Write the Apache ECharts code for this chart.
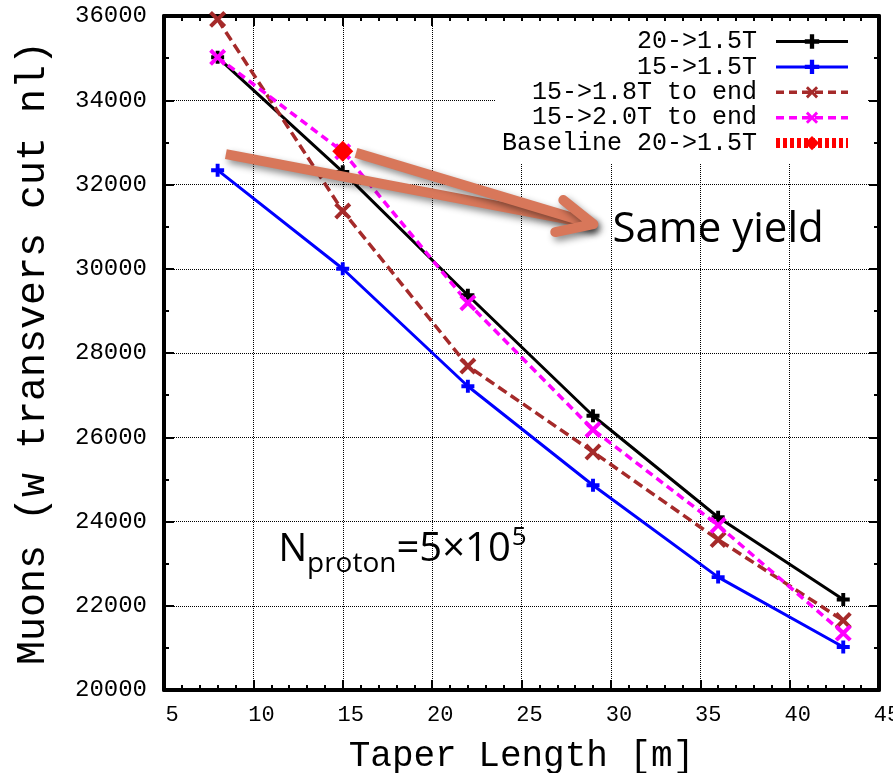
<!DOCTYPE html>
<html>
<head>
<meta charset="utf-8">
<script src="https://cdn.jsdelivr.net/npm/echarts@6/dist/echarts.min.js"></script>
<style>
  html, body { margin: 0; padding: 0; background: #fff; }
  #chart { width: 893px; height: 773px; }
</style>
</head>
<body>
<div id="chart"></div>
<script>
// Taper length [m] of each simulated configuration
const taperLength = [8, 15, 22, 29, 36, 43];

// Muon yield (with transverse cut) per configuration
const muons20to15 = [35020, 32300, 29370, 26510, 24100, 22150];
const muons15to15 = [32340, 30000, 27210, 24860, 22680, 21020];
const muons15to18 = [35920, 31370, 27690, 25650, 23570, 21650];
const muons15to20 = [35020, 32780, 29190, 26180, 23910, 21350];

// Baseline design point
const baselineLength = [15];
const baselineMuons = [32790];

const seriesNames = ['20->1.5T', '15->1.5T', '15->1.8T to end', '15->2.0T to end', 'Baseline 20->1.5T'];

// Annotation anchors in data units (taper length, muons)
const arrowShafts = [
  [[8.46, 32720], [29.02, 31060]],
  [[15.74, 32750], [29.02, 31060]]
];
const arrowHead = [[27.34, 31630], [29.02, 31060], [26.89, 30870]];
const sameYieldAnchor = [30.09, 30930];
const protonAnchor = [11.4, 23330];

const MONO = '"Liberation Mono", "DejaVu Sans Mono", monospace';
const SANS = '"Open Sans", "Noto Sans", sans-serif';
const PLUS = 'path://M3.5,0H6.5V3.5H10V6.5H6.5V10H3.5V6.5H0V3.5H3.5Z';
const CROSS = 'path://M4,0H6V4H10V6H6V10H4V6H0V4H4Z';

function pairs(xs, ys) { return xs.map((x, i) => [x, ys[i]]); }

const chart = echarts.init(document.getElementById('chart'), null, { renderer: 'canvas' });

const frameLine = { onZero: false, lineStyle: { color: '#000', width: 4 } };
const frameTick = { show: true, inside: true, length: 10, lineStyle: { color: '#000', width: 2 } };

const xBase = { type: 'value', min: 5, max: 45, interval: 5 };
const yBase = { type: 'value', min: 20000, max: 36000, interval: 2000 };

chart.setOption({
  animation: false,
  backgroundColor: '#fff',
  grid: { left: 164, right: 14, top: 16, bottom: 83, containLabel: false, outerBoundsMode: 'none' },
  legend: {
    orient: 'vertical',
    right: 25,
    top: 21,
    align: 'right',
    itemWidth: 72,
    itemHeight: 18,
    itemGap: 0.4,
    backgroundColor: '#fff',
    padding: [8, 15, 8, 6],
    textStyle: { fontFamily: MONO, fontSize: 25, color: '#000', padding: [0, 14, 0, 0] },
    data: [
      { name: seriesNames[0], lineStyle: { width: 3 } },
      { name: seriesNames[1], lineStyle: { width: 3 } },
      { name: seriesNames[2], lineStyle: { width: 3.5, type: [8, 5] } },
      { name: seriesNames[3], lineStyle: { width: 3.5, type: [8, 5] } },
      { name: seriesNames[4], lineStyle: { width: 10, type: [4, 3] } }
    ]
  },
  xAxis: [
    Object.assign({}, xBase, {
      position: 'bottom',
      name: 'Taper Length [m]',
      nameLocation: 'middle',
      nameGap: 48,
      nameTextStyle: { fontFamily: MONO, fontSize: 36, color: '#000' },
      axisLine: frameLine,
      axisTick: frameTick,
      minorTick: { show: true, splitNumber: 5, length: 5, lineStyle: { color: '#000', width: 2 } },
      axisLabel: { fontFamily: MONO, fontSize: 22, color: '#000', margin: 14, padding: [0, 0, 0, 16] },
      splitLine: { show: true, lineStyle: { color: '#000', type: 'dotted', width: 1 } }
    }),
    Object.assign({}, xBase, {
      position: 'top',
      axisLine: frameLine,
      axisTick: frameTick,
      minorTick: { show: true, splitNumber: 5, length: 5, lineStyle: { color: '#000', width: 2 } },
      axisLabel: { show: false },
      splitLine: { show: false }
    })
  ],
  yAxis: [
    Object.assign({}, yBase, {
      position: 'left',
      name: 'Muons (w transvers cut nl)',
      nameLocation: 'middle',
      nameGap: 111,
      nameTextStyle: { fontFamily: MONO, fontSize: 40, color: '#000' },
      axisLine: frameLine,
      axisTick: frameTick,
      minorTick: { show: true, splitNumber: 2, length: 5, lineStyle: { color: '#000', width: 2 } },
      axisLabel: { fontFamily: MONO, fontSize: 24, color: '#000', margin: 17, formatter: v => String(v) },
      splitLine: { show: true, lineStyle: { color: '#000', type: 'dotted', width: 1 } }
    }),
    Object.assign({}, yBase, {
      position: 'right',
      axisLine: frameLine,
      axisTick: frameTick,
      minorTick: { show: true, splitNumber: 2, length: 5, lineStyle: { color: '#000', width: 2 } },
      axisLabel: { show: false },
      splitLine: { show: false }
    })
  ],
  series: [
    {
      name: seriesNames[0], type: 'line', data: pairs(taperLength, muons20to15),
      symbol: PLUS, symbolSize: 13, z: 3,
      lineStyle: { color: '#000', width: 3 }, itemStyle: { color: '#000' }
    },
    {
      name: seriesNames[1], type: 'line', data: pairs(taperLength, muons15to15),
      symbol: PLUS, symbolSize: 13, z: 3,
      lineStyle: { color: '#0000ff', width: 3 }, itemStyle: { color: '#0000ff' }
    },
    {
      name: seriesNames[2], type: 'line', data: pairs(taperLength, muons15to18),
      symbol: CROSS, symbolSize: 20, symbolRotate: 45, z: 3,
      lineStyle: { color: '#a52a2a', width: 3.5, type: [10, 5] }, itemStyle: { color: '#a52a2a' }
    },
    {
      name: seriesNames[3], type: 'line', data: pairs(taperLength, muons15to20),
      symbol: CROSS, symbolSize: 20, symbolRotate: 45, z: 3,
      lineStyle: { color: '#ff00ff', width: 3.5, type: [8, 5] }, itemStyle: { color: '#ff00ff' }
    },
    {
      name: seriesNames[4], type: 'line', data: pairs(baselineLength, baselineMuons),
      symbol: 'diamond', symbolSize: 21, z: 4,
      lineStyle: { color: '#ff0000', width: 9, type: [4, 3] }, itemStyle: { color: '#ff0000' }
    }
  ]
});

// Annotations positioned from data coordinates
const toPx = p => chart.convertToPixel({ xAxisIndex: 0, yAxisIndex: 0 }, p);
const arrowColor = '#d8775a';
const shadow = { shadowColor: 'rgba(0,0,0,0.45)', shadowBlur: 7, shadowOffsetX: 3, shadowOffsetY: 4 };

const measureCtx = document.createElement('canvas').getContext('2d');
function textWidth(str, font) { measureCtx.font = font; return measureCtx.measureText(str).width; }

const graphics = [];
arrowShafts.forEach(seg => {
  graphics.push({
    type: 'polyline', z: 50,
    shape: { points: seg.map(toPx) },
    style: Object.assign({ stroke: arrowColor, lineWidth: 10, lineCap: 'butt', fill: null }, shadow)
  });
});
graphics.push({
  type: 'polyline', z: 51,
  shape: { points: arrowHead.map(toPx) },
  style: Object.assign({ stroke: arrowColor, lineWidth: 10, lineCap: 'round', lineJoin: 'round', fill: null }, shadow)
});

const sy = toPx(sameYieldAnchor);
graphics.push({
  type: 'text', z: 60, x: sy[0], y: sy[1],
  style: { text: 'Same yield', font: '42px ' + SANS, fill: '#000', align: 'left', verticalAlign: 'middle' }
});

// N_proton = 5×10^5 with subscript and superscript pieces
const pp = toPx(protonAnchor);
const fN = '38px ' + SANS, fSub = '28px ' + SANS, fMain = '40px ' + SANS, fSup = '26px ' + SANS;
const xSub = pp[0] + textWidth('N', fN);
const xMain = xSub + textWidth('proton', fSub);
const xSup = xMain + textWidth('=5×10', fMain) + 1;
graphics.push(
  { type: 'text', z: 60, x: pp[0], y: pp[1],
    style: { text: 'N', font: fN, fill: '#000', align: 'left', verticalAlign: 'middle' } },
  { type: 'text', z: 60, x: xSub, y: pp[1] + 14.5,
    style: { text: 'proton', font: fSub, fill: '#000', align: 'left', verticalAlign: 'middle' } },
  { type: 'text', z: 60, x: xMain, y: pp[1],
    style: { text: '=5×10', font: fMain, fill: '#000', align: 'left', verticalAlign: 'middle' } },
  { type: 'text', z: 60, x: xSup, y: pp[1] - 12,
    style: { text: '5', font: fSup, fill: '#000', align: 'left', verticalAlign: 'middle' } }
);

chart.setOption({ graphic: graphics });
</script>
</body>
</html>
